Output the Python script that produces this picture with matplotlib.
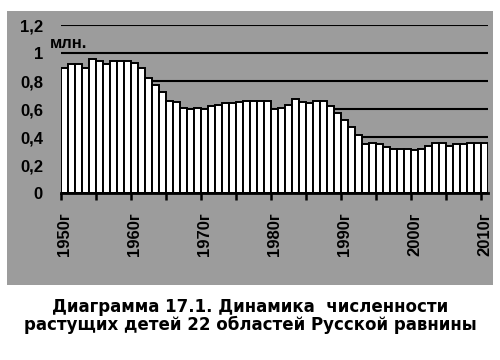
import matplotlib
matplotlib.use("Agg")
import matplotlib.pyplot as plt
from matplotlib.patches import Rectangle

years = list(range(1950, 2011))
values = [0.89, 0.92, 0.92, 0.89, 0.96, 0.94, 0.92, 0.94, 0.94, 0.94,
          0.93, 0.89, 0.82, 0.77, 0.72, 0.66, 0.65, 0.61, 0.60, 0.61,
          0.60, 0.62, 0.63, 0.64, 0.64, 0.65, 0.66, 0.66, 0.66, 0.66,
          0.60, 0.61, 0.63, 0.67, 0.65, 0.64, 0.66, 0.66, 0.62, 0.57,
          0.52, 0.47, 0.415, 0.35, 0.36, 0.35, 0.33, 0.315, 0.315, 0.315,
          0.305, 0.315, 0.335, 0.36, 0.36, 0.335, 0.35, 0.35, 0.36, 0.36,
          0.36]
y_ticks = [0, 0.2, 0.4, 0.6, 0.8, 1.0, 1.2]
y_tick_labels = ["0", "0,2", "0,4", "0,6", "0,8", "1", "1,2"]
x_label_years = [1950, 1960, 1970, 1980, 1990, 2000, 2010]
unit_text = "млн."
title_text = "Диаграмма 17.1. Динамика  численности\nрастущих детей 22 областей Русской равнины"

GRAY = "#9c9c9c"
W, H = 500, 360
fig = plt.figure(figsize=(5, 3.6), dpi=100, facecolor="white")

# gray chart area
fig.add_artist(Rectangle((7 / W, 1 - 285 / H), 486 / W, 274 / H,
                         transform=fig.transFigure, facecolor=GRAY,
                         edgecolor="none", zorder=0))

ax = fig.add_axes([61 / W, 1 - 193 / H, 427 / W, 168 / H])
ax.set_facecolor(GRAY)
ax.patch.set_alpha(0)

x = list(range(len(years)))
ax.bar(x, values, width=1.0, color="white", edgecolor="black",
       linewidth=1.4, zorder=3)

ax.set_xlim(-0.5, len(years) - 0.5)
ax.set_ylim(0, 1.2)

for s in ["left", "right", "top"]:
    ax.spines[s].set_visible(False)
ax.spines["bottom"].set_linewidth(2)
ax.spines["bottom"].set_zorder(4)

ax.set_yticks(y_ticks)
ax.set_yticklabels(y_tick_labels, fontfamily="Liberation Sans",
                   fontweight="bold", fontsize=12)
ax.tick_params(axis="y", length=0, pad=13)
ax.yaxis.grid(True, color="black", linewidth=1.5, zorder=1)
ax.set_axisbelow(True)

# major ticks at boundaries every 5 categories
ax.set_xticks([i - 0.5 for i in range(0, len(years), 5)])
ax.set_xticklabels([])
ax.tick_params(axis="x", which="major", length=5, width=1.8, direction="out")
# minor ticks (labels) at category centres
lab_pos = [years.index(yv) for yv in x_label_years]
ax.set_xticks(lab_pos, minor=True)
ax.set_xticklabels([f"{yv}г" for yv in x_label_years], minor=True,
                   rotation=90, fontfamily="Liberation Sans",
                   fontweight="bold", fontsize=12)
ax.tick_params(axis="x", which="minor", length=0, pad=14)

fig.text(50 / W, 1 - 43 / H, unit_text, fontfamily="Liberation Sans",
         fontweight="bold", fontsize=12, ha="left", va="center")

fig.text(0.5, 1 - 316 / H, title_text, fontfamily="DejaVu Sans",
         fontweight="bold", fontsize=12, ha="center", va="center",
         linespacing=1.05)

fig.savefig("out.png", dpi=100, facecolor="white")
